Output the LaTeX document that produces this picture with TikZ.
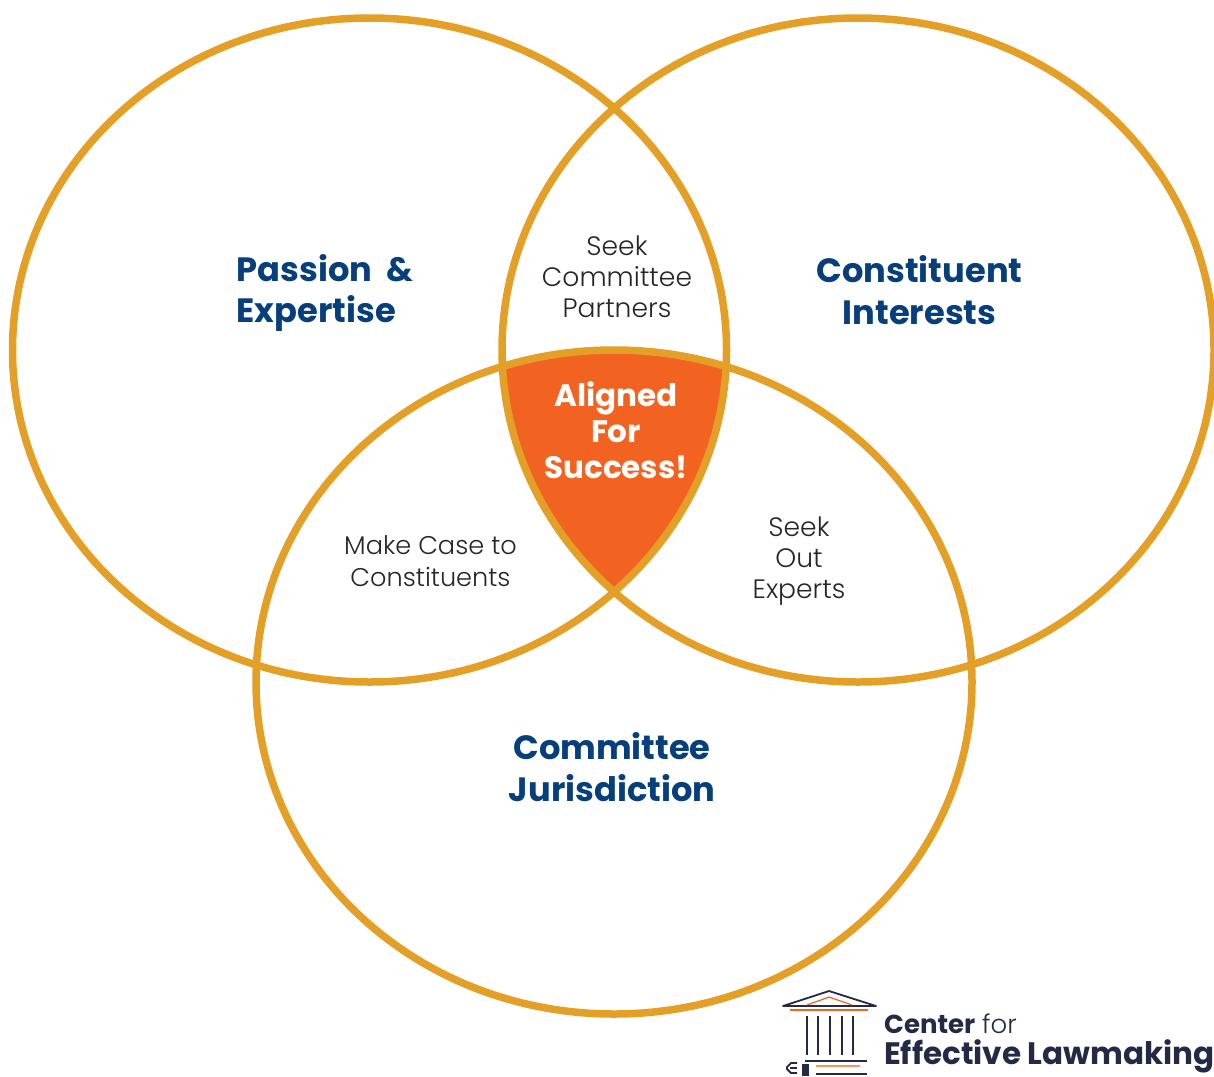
\documentclass[tikz,border=0pt]{standalone}
\usepackage{fontspec}
\setmainfont{Poppins}
\newfontfamily\lightfont[UprightFont=* Light]{Poppins}
\definecolor{ringgold}{HTML}{E39F26}
\definecolor{coreorange}{HTML}{F26322}
\definecolor{headblue}{HTML}{063F7C}
\definecolor{logonavy}{HTML}{232A45}
\tikzset{
  ring/.style={draw=ringgold, line width=7.5pt},
  headtext/.style={align=center, text=headblue, font=\fontsize{33.7}{41.5}\selectfont\bfseries},
  overlap/.style={align=center, text=black!85, font=\lightfont\fontsize{26.6}{31}\selectfont},
  coretext/.style={align=center, text=white, font=\fontsize{31}{36}\selectfont\bfseries},
  logodark/.style={draw=logonavy, line width=1.8pt},
  logoorange/.style={draw=coreorange, line width=1.2pt}
}

\begin{document}
\begin{tikzpicture}[x=1pt, y=-1pt]
    \useasboundingbox (0, 0) rectangle (1214, 1076);

    % middle region
    \begin{scope}
      \clip (369, 350) ellipse [x radius=357, y radius=332];
      \clip (858, 350) ellipse [x radius=357, y radius=332];
      \fill[coreorange] (614, 682) ellipse [x radius=357, y radius=332];
    \end{scope}

    % the three rings
    \draw[ring] (369.5, 350) ellipse [x radius=357, y radius=332];
    \draw[ring] (858, 350) ellipse [x radius=356, y radius=332];
    \draw[ring] (614, 682) ellipse [x radius=358, y radius=332];

    \node[headtext, align=left] at (325, 293) (passion) {Passion\ \ \&\\Expertise};
    \node[headtext] at (919.5, 290) (constituent) {Constituent\\Interests};
    \node[headtext] at (612, 767) (committee) {Committee\\Jurisdiction};

    \node[overlap] at (617, 277) (partners) {Seek\\Committee\\Partners};
    \node[overlap, font=\lightfont\fontsize{25.6}{32}\selectfont] at (430.5, 561) (makecase) {Make Case to\\Constituents};
    \node[overlap] at (799, 561) (experts) {Seek\\Out\\Experts};
    \node[coretext] at (616, 430) (aligned) {Aligned\\For\\Success!};

    % logo
    \draw[logodark, line join=round] (783, 1006) -- (829, 991) -- (876, 1006) -- cycle;
    \draw[logoorange] (807, 1005) -- (829, 997) -- (852, 1005);
    \draw[logoorange] (790, 1010) -- (868, 1010);
    \foreach \colx in {807, 818, 830, 842, 853}
      \draw[logodark] (\colx, 1016) -- (\colx, 1055);
    \draw[logodark] (805, 1061) -- (867, 1061);
    \draw[draw=coreorange!70, line width=1.2pt] (816, 1066) -- (860, 1066);
    \draw[logodark] (816, 1074) -- (867, 1074);
    \draw[logodark] (797, 1063) -- (791, 1063) -- (787, 1067) -- (787, 1069) -- (791, 1073) -- (797, 1073);
    \draw[logodark] (790, 1068) -- (797, 1068);
    \fill[logonavy] (802, 1064) rectangle (809, 1076);

    \node[anchor=base west, inner sep=0pt, text=logonavy, font=\fontsize{26}{26}\selectfont] at (884, 1033) (center) {\textbf{Center} {\lightfont for}};
    \node[anchor=base west, inner sep=0pt, text=logonavy, font=\fontsize{31}{31}\selectfont\bfseries] at (884, 1064) (lawmaking) {Effective Lawmaking};
\end{tikzpicture}
\end{document}
